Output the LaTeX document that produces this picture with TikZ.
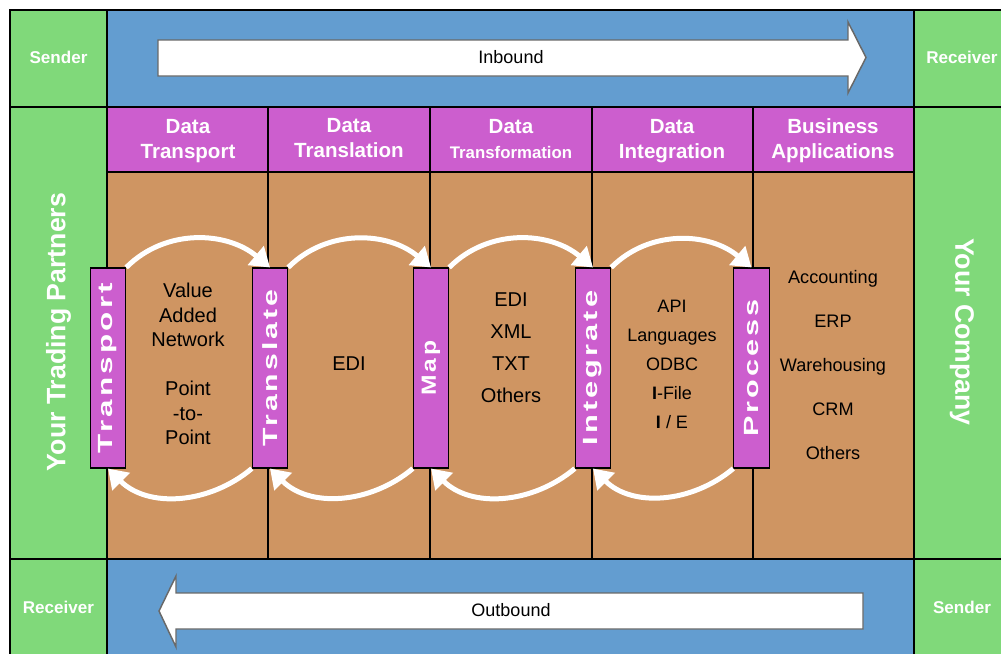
\documentclass[tikz,border=0pt]{standalone}
\usepackage{fontspec}
\setmainfont{Liberation Sans}
\usetikzlibrary{arrows.meta}

\definecolor{cellgreen}{RGB}{128,217,122}
\definecolor{cellblue}{RGB}{99,157,208}
\definecolor{cellpink}{RGB}{204,94,206}
\definecolor{cellbrown}{RGB}{207,149,98}
\definecolor{arrowrim}{RGB}{105,105,105}

% upright, stretched label for the step bars
\newcommand\barlabel[2][1.5]{\rotatebox{90}{\scalebox{#1}[1]{\bfseries
  \fontsize{15.4}{18}\selectfont\addfontfeatures{LetterSpace=10}#2}}}

\tikzset{
  cell/.style={draw=black, line width=0.8pt},
  sidetext/.style={text=white, font=\bfseries\fontsize{12.8}{15}\selectfont},
  bigtext/.style={text=white, font=\bfseries\fontsize{20}{24}\selectfont},
  headtext/.style={text=white, align=center, font=\bfseries\fontsize{15.4}{18.75}\selectfont},
  blockarrow/.style={draw=arrowrim, line width=1.1pt, fill=white},
  bar/.style={draw=black, line width=0.8pt, fill=cellpink, text=white,
    minimum width=26.5pt, minimum height=150pt, inner sep=0pt},
  flow/.style={draw=white, line width=3.75pt, -{Triangle[length=14pt,width=18pt]}},
}

\begin{document}
\begin{tikzpicture}[x=0.75pt,y=-0.75pt]
  \clip (0,0) rectangle (1001,654);

  % side columns and inbound / outbound rows
  \draw[cell, fill=cellgreen] (10,10) rectangle (107,107);
  \draw[cell, fill=cellgreen] (10,107) rectangle (107,559);
  \draw[cell, fill=cellgreen] (10,559) rectangle (107,656);
  \draw[cell, fill=cellgreen] (914,10) rectangle (1011,107);
  \draw[cell, fill=cellgreen] (914,107) rectangle (1011,559);
  \draw[cell, fill=cellgreen] (914,559) rectangle (1011,656);
  \draw[cell, fill=cellblue] (107,10) rectangle (914,107);
  \draw[cell, fill=cellblue] (107,559) rectangle (914,656);

  % header row and body
  \draw[cell, fill=cellpink] (107,107) rectangle (914,172);
  \draw[cell, fill=cellbrown] (107,172) rectangle (914,559);
  \foreach \x in {268,430,592,753}
    \draw[cell] (\x,107) -- (\x,559);

  % block arrows
  \draw[blockarrow] (158,40) -- (848,40) -- (848,22) -- (866,57.5) -- (848,93)
    -- (848,76) -- (158,76) -- cycle;
  \draw[blockarrow] (863,593) -- (176,593) -- (176,576) -- (159,611) -- (176,647)
    -- (176,629) -- (863,629) -- cycle;
  \node (inbound) at (511,57) {\fontsize{13.5}{16}\selectfont Inbound};
  \node (outbound) at (511,610) {\fontsize{13.5}{16}\selectfont Outbound};

  \node[sidetext] (sendertop) at (58.5,57) {Sender};
  \node[sidetext] (receivertop) at (962,57) {Receiver};
  \node[sidetext] (receiverbot) at (58.5,607) {Receiver};
  \node[sidetext] (senderbot) at (962,607) {Sender};

  \node[bigtext, rotate=90] (partners) at (58.5,332) {Your Trading Partners};
  \node[bigtext, rotate=-90] (company) at (962,332) {Your Company};

  % column headers
  \node[headtext] (hdtransport) at (188,141) {Data\\Transport};
  \node[headtext] (hdtranslation) at (349,138.5) {Data\\Translation};
  \node[headtext] (hdtransform) at (511,139) {Data\\{\fontsize{12.6}{15}\selectfont Transformation}};
  \node[headtext] (hdintegration) at (672,141) {Data\\Integration};
  \node[headtext] (hdbusiness) at (833,141) {Business\\Applications};

  % step bars
  \node[bar] (transport) at (108,368) {\barlabel[1.53]{Transport}};
  \node[bar] (translate) at (270,368) {\barlabel[1.47]{Translate}};
  \node[bar] (map) at (431,368) {\barlabel[1.2]{Map}};
  \node[bar] (integrate) at (593,368) {\barlabel[1.5]{Integrate}};
  \node[bar] (process) at (751.5,368) {\barlabel[1.49]{Process}};

  % column contents
  \node[align=center, font=\fontsize{15}{18.4}\selectfont] (network) at (188,364)
    {Value\\Added\\Network\\[18.4pt]Point\\-to-\\Point};
  \node[font=\fontsize{15}{18}\selectfont] (edi) at (349,364) {EDI};
  \node[align=center, font=\fontsize{15}{24}\selectfont] (formats) at (511,348)
    {EDI\\XML\\TXT\\Others};
  \node[align=center, font=\fontsize{13.5}{21.75}\selectfont] (interfaces) at (672,364)
    {API\\Languages\\ODBC\\\textbf{I}-File\\\textbf{I} / E};
  \node[align=center, font=\fontsize{13.6}{33}\selectfont] (apps) at (833,365)
    {Accounting\\ERP\\Warehousing\\CRM\\Others};

  % forward and backward flows
  \draw[flow] (transport.north east) to[out=45,in=140] (translate.north);
  \draw[flow] (translate.north east) to[out=45,in=140] (map.north);
  \draw[flow] (map.north east) to[out=45,in=140] (integrate.north);
  \draw[flow] (integrate.north east) to[out=45,in=140] (process.north);
  \draw[flow] (process.south west) to[out=-140,in=-45] (integrate.south);
  \draw[flow] (integrate.south west) to[out=-140,in=-45] (map.south);
  \draw[flow] (map.south west) to[out=-140,in=-45] (translate.south);
  \draw[flow] (translate.south west) to[out=-140,in=-45] (transport.south);
\end{tikzpicture}
\end{document}
